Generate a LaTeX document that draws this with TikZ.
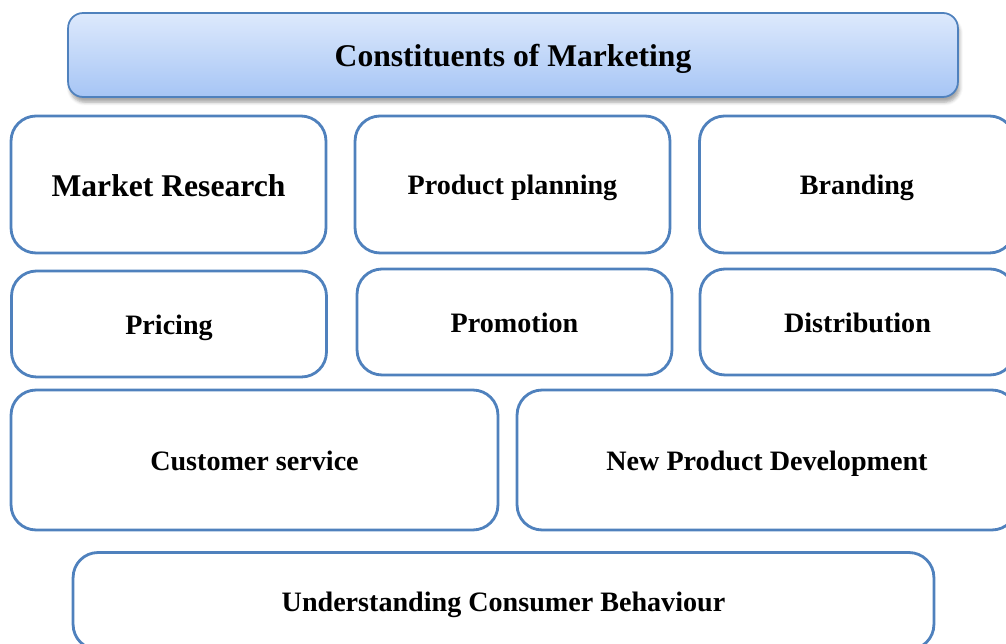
\documentclass[tikz,border=0pt]{standalone}
\usepackage{fontspec}
\setmainfont{Liberation Serif}
\usetikzlibrary{shadows.blur}

\definecolor{boxblue}{RGB}{79,129,189}
\definecolor{titletop}{RGB}{221,233,252}
\definecolor{titlebottom}{RGB}{166,197,245}

\begin{document}
\begin{tikzpicture}[
  x=0.02cm, y=-0.02cm,
  every node/.style={draw=boxblue, line width=1.6pt, rounded corners=0.5cm,
    align=center, font=\bfseries\fontsize{16}{19}\selectfont, fill=white,
    text height=11.4pt, text depth=0pt},
  big/.style={font=\bfseries\fontsize{18}{21}\selectfont, text height=13.2pt},
  title/.style={big, rounded corners=0.3cm, line width=1pt, top color=titletop,
    bottom color=titlebottom,
    blur shadow={shadow xshift=1pt, shadow yshift=-3pt, shadow opacity=35}}
]
  \useasboundingbox (0,0) rectangle (1006,644);

  \node[title, minimum width=17.8cm, minimum height=1.68cm] (head) at (513,55) {Constituents of Marketing};

  % first row
  \node[big, minimum width=6.3cm, minimum height=2.74cm] (research) at (168.5,184.5) {Market Research};
  \node[minimum width=6.3cm, minimum height=2.74cm] (planning) at (512.5,184.5) {Product planning};
  \node[minimum width=6.3cm, minimum height=2.74cm] (branding) at (857,184.5) {Branding};

  % second row
  \node[minimum width=6.3cm, minimum height=2.12cm] (pricing) at (169,324) {Pricing};
  \node[minimum width=6.3cm, minimum height=2.12cm] (promotion) at (514.5,322) {Promotion};
  \node[minimum width=6.3cm, minimum height=2.12cm] (distribution) at (857.5,322) {Distribution};

  % third row
  \node[minimum width=9.74cm, minimum height=2.8cm] (service) at (254.5,460) {Customer service};
  \node[minimum width=10cm, minimum height=2.8cm] (newproduct) at (767,460) {New Product Development};

  % last row
  \node[minimum width=17.22cm, minimum height=1.94cm] (behaviour) at (503.5,601) {Understanding Consumer Behaviour};
\end{tikzpicture}
\end{document}
